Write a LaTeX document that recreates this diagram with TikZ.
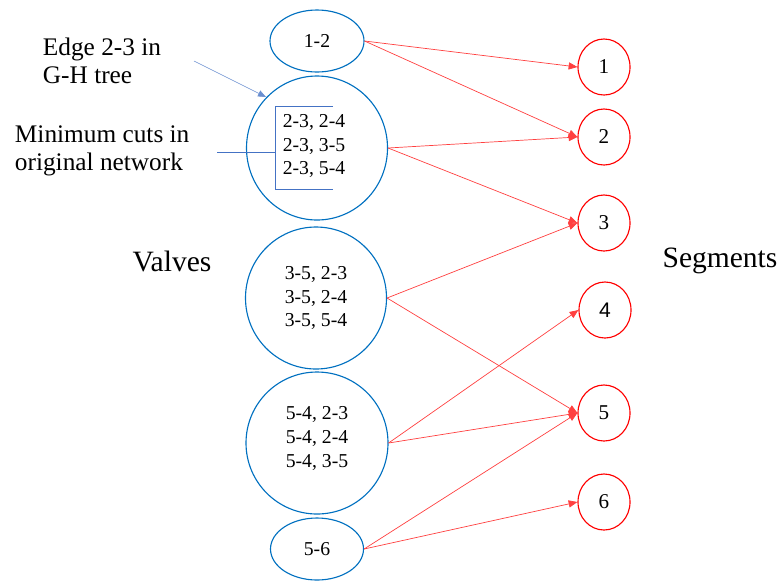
\documentclass[tikz,border=0pt]{standalone}
\usepackage{fontspec}
\setmainfont{Liberation Serif}
\newfontfamily\arialfont{Liberation Sans}
\usetikzlibrary{arrows.meta, shapes.geometric}
\definecolor{valveedge}{HTML}{0070C0}
\definecolor{noteedge}{HTML}{4472C4}
\definecolor{segedge}{HTML}{FF0000}

\begin{document}
\begin{tikzpicture}[
  x=0.025cm, y=-0.025cm,
  valve/.style 2 args={ellipse, draw=valveedge, line width=0.8pt, inner sep=0pt,
              minimum width=#1*0.025cm, minimum height=#2*0.025cm, align=center,
              font=\rmfamily\fontsize{14}{17}\selectfont},
  seg/.style={ellipse, draw=segedge, line width=0.8pt, inner sep=0pt,
              minimum width=1.3cm, minimum height=1.4cm, font=\rmfamily\fontsize{15}{17}\selectfont},
  link/.style={draw=segedge!75, line width=0.5pt, -{Triangle[length=2.2mm, width=1.8mm]}},
  note/.style={align=left, font=\rmfamily\fontsize{18}{20}\selectfont, anchor=west},
  side/.style={font=\rmfamily\fontsize{21}{24}\selectfont},
]
\useasboundingbox (0,0) rectangle (780,581);
% ---- valves (blue)
\node[valve={94}{62}] (v12) at (317, 41) {1-2};
\node[valve={141}{144}] (v23) at (317, 148) {};
\node[valve={141}{142}] (v35) at (316, 298) {3-5, 2-3\\3-5, 2-4\\3-5, 5-4};
\node[valve={142}{142}] (v54) at (317, 443) {5-4, 2-3\\5-4, 2-4\\5-4, 3-5\\[-8pt]~};
\node[valve={93}{62}] (v56) at (317, 549) {5-6};
\node[align=center, font=\rmfamily\fontsize{14}{17}\selectfont] (cuts) at (314, 146) {2-3, 2-4\\2-3, 3-5\\2-3, 5-4};
% ---- segments (red)
\node[seg] (s1) at (604, 67) {1};
\node[seg] (s2) at (604, 137) {2};
\node[seg] (s3) at (604, 223) {3};
\node[seg, font=\arialfont\fontsize{15}{17}\selectfont] (s4) at (605, 310) {4};
\node[seg] (s5) at (604, 413) {5};
\node[seg] (s6) at (604, 502) {6};
% ---- valve -> segment links
\draw[link] (v12.east) -- (s1.west);
\draw[link] (v12.east) -- (s2.west);
\draw[link] (v23.east) -- (s2.west);
\draw[link] (v23.east) -- (s3.west);
\draw[link] (v35.east) -- (s3.west);
\draw[link] (v35.east) -- (s5.west);
\draw[link] (v54.east) -- (s4.west);
\draw[link] (v54.east) -- (s5.west);
\draw[link] (v56.east) -- (s5.west);
\draw[link] (v56.east) -- (s6.west);
% ---- side labels
\node[side] (valves) at (172, 261) {Valves};
\node[side] (segments) at (720, 261) {Segments};
% ---- annotations
\node[note] (edgenote) at (38, 61) {Edge 2-3 in\\G-H tree};
\node[note] (cutnote) at (10, 151) {Minimum cuts in\\original network};
\coordinate (brtop) at (275, 106);
\coordinate (brbot) at (275, 189);
\coordinate (brmid) at (275, 152);
\coordinate (edgetip) at (266, 97);
\coordinate (edgetail) at (194, 61);
\coordinate (cuttail) at (217, 152);
\draw[noteedge, line width=0.7pt] (333, 106) -- (brtop) -- (brbot) -- (333, 189);
\draw[noteedge, line width=0.7pt] (cuttail) -- (brmid);
\draw[noteedge!80, line width=0.4pt, -{Triangle[length=2mm, width=1.6mm]}] (edgetail) -- (edgetip);
\end{tikzpicture}
\end{document}
